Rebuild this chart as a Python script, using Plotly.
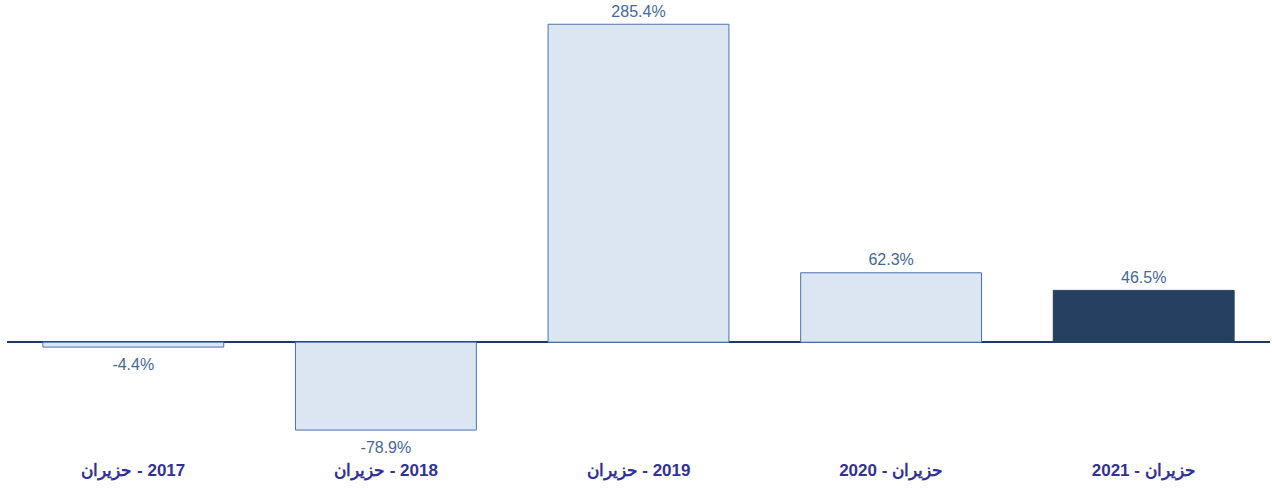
import plotly.graph_objects as go

# category labels (June of each year)
categories = [
    "حزيران\u200e - 2017",
    "حزيران\u200e - 2018",
    "حزيران\u200e - 2019",
    "حزيران - 2020",
    "حزيران - 2021",
]
changes = [-4.4, -78.9, 285.4, 62.3, 46.5]
value_labels = ["-4.4%", "-78.9%", "285.4%", "62.3%", "46.5%"]

fill_colors = ["#dce6f2"] * 4 + ["#264061"]
line_colors = ["#4a72b0"] * 4 + ["#264061"]

fig = go.Figure()
fig.add_trace(go.Bar(
    x=categories, y=changes,
    marker=dict(color=fill_colors, line=dict(color=line_colors, width=1)),
    width=0.716, hoverinfo="skip",
))
# value labels above positive bars, below negative ones
below = [v < 0 for v in changes]
fig.add_trace(go.Scatter(
    x=categories, y=changes, mode="markers+text",
    text=value_labels,
    textposition=["bottom center" if b else "top center" for b in below],
    textfont=dict(family="Liberation Sans, Arial", size=16, color="#44679a"),
    marker=dict(size=[16 if b else 4 for b in below], opacity=0),
    cliponaxis=False, hoverinfo="skip",
))

fig.update_layout(
    width=1272, height=488,
    margin=dict(l=7, r=2, t=8, b=40, autoexpand=False),
    plot_bgcolor="white", paper_bgcolor="white",
    showlegend=False,
    xaxis=dict(
        showgrid=False, showline=False, ticks="", automargin=False,
        tickfont=dict(family="Liberation Sans, Arial", size=17, color="#323296"),
        tickprefix="<b>", ticksuffix="</b>", ticklabelstandoff=10,
    ),
    yaxis=dict(
        range=[-95, 300], showgrid=False, showticklabels=False, automargin=False,
        zeroline=True, zerolinecolor="#1f3864", zerolinewidth=2,
    ),
)

# drop the default 8px page margin so the figure sits at the window corner
fig.write_html("out.html", config={"displayModeBar": False},
               post_script="document.body.style.margin = '0';")
